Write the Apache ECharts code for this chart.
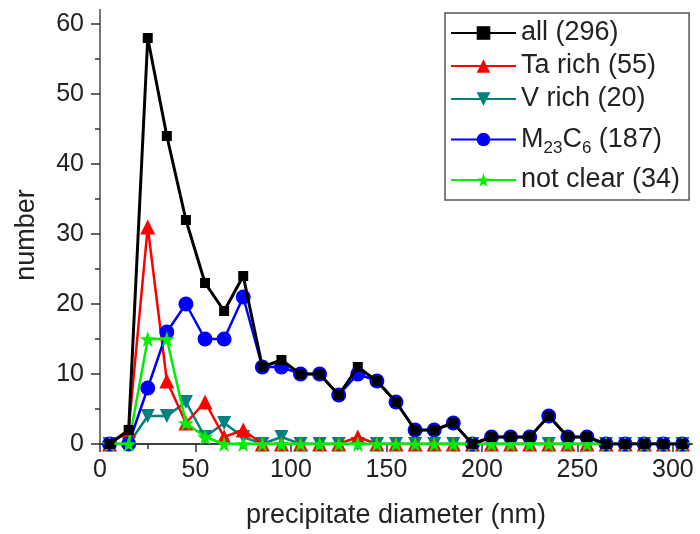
<!DOCTYPE html>
<html>
<head>
<meta charset="utf-8">
<script src="https://cdn.jsdelivr.net/npm/echarts@6/dist/echarts.min.js"></script>
<style>html,body{margin:0;padding:0;background:#fff}#c{width:700px;height:534px}</style>
</head>
<body>
<div id="c"></div>
<script>
var diameters = [5,15,25,35,45,55,65,75,85,95,105,115,125,135,145,155,165,175,185,195,205,215,225,235,245,255,265,275,285,295,305];
var allVals   = [0,2,58,44,32,23,19,24,11,12,10,10,7,11,9,6,2,2,3,0,1,1,1,4,1,1,0,0,0,0,0];
var taVals    = [0,2,31,9,3,6,1,2,0,0,0,0,0,1,0,0,0,0,0,0,0,0,0,0,0,0,0,0,0,0,0];
var vVals     = [0,0,4,4,6,1,3,1,0,1,0,0,0,0,0,0,0,0,0,0,0,0,0,0,0,0,0,0,0,0,0];
var m23Vals   = [0,0,8,16,20,15,15,21,11,11,10,10,7,10,9,6,2,2,3,0,1,1,1,4,1,1,0,0,0,0,0];
var ncVals    = [0,0,15,15,3,1,0,0,0,0,0,0,0,0,0,0,0,0,0,0,0,0,0,0,0,0,0,0,0,0,0];
var xMajor = [0,50,100,150,200,250,300];
var xMinor = [25,75,125,175,225,275];
var yMajor = [0,10,20,30,40,50,60];
var yMinor = [5,15,25,35,45,55];
var names = ['all (296)','Ta rich (55)','V rich (20)','M23C6 (187)','not clear (34)'];

function pairs(v){ return diameters.map(function(d,i){ return [d, v[i]]; }); }

var FONT = 'Liberation Sans, Arial, sans-serif';
var TXT = '#222';
var AX = '#333';
var chart = echarts.init(document.getElementById('c'), null, {renderer:'canvas'});

function mkSeries(name, vals, color, symbol, size, lw, z){
  return {
    name: name, type: 'line', data: pairs(vals), xAxisIndex: 0, yAxisIndex: 0,
    symbol: symbol, symbolSize: size, showAllSymbol: true, z: z,
    lineStyle: {color: color, width: lw},
    itemStyle: {color: color, borderWidth: 0},
    emphasis: {disabled: true}, animation: false
  };
}
var starPath = 'path://M50,0 L61.8,35.5 L97.6,35.5 L68.8,57.4 L79.4,91.5 L50,70.5 L20.6,91.5 L31.2,57.4 L2.4,35.5 L38.2,35.5 Z';

var option = {
  animation: false,
  backgroundColor: '#fff',
  grid: {left: 100, right: 8, top: 10, bottom: 88, containLabel: false},
  xAxis: [
    {type:'value', position:'bottom', min:0, max:310,
     axisLine:{show:true, lineStyle:{color:AX, width:1.5}},
     axisTick:{show:true, customValues:xMajor, length:8, inside:false, lineStyle:{color:AX, width:1.5}},
     axisLabel:{customValues:xMajor, fontFamily:FONT, fontSize:25, color:TXT, margin:14},
     splitLine:{show:false},
     name:'precipitate diameter (nm)', nameLocation:'middle', nameGap:58,
     nameTextStyle:{fontFamily:FONT, fontSize:27, color:TXT}},
    {type:'value', position:'bottom', min:0, max:310,
     axisLine:{show:false},
     axisTick:{show:true, customValues:xMinor, length:5, lineStyle:{color:AX, width:1.5}},
     axisLabel:{show:false}, splitLine:{show:false}},
    {type:'value', position:'top', min:0, max:310,
     axisLine:{show:true, lineStyle:{color:AX, width:1.5}},
     axisTick:{show:false}, axisLabel:{show:false}, splitLine:{show:false}}
  ],
  yAxis: [
    {type:'value', position:'left', min:0, max:62,
     axisLine:{show:true, lineStyle:{color:AX, width:1.5}},
     axisTick:{show:true, customValues:yMajor, length:9, lineStyle:{color:AX, width:1.5}},
     axisLabel:{customValues:yMajor, fontFamily:FONT, fontSize:25, color:TXT, margin:16},
     splitLine:{show:false},
     name:'number', nameLocation:'middle', nameGap:60, nameRotate:90,
     nameTextStyle:{fontFamily:FONT, fontSize:27, color:TXT, padding:[0,16,0,0]}},
    {type:'value', position:'left', min:0, max:62,
     axisLine:{show:false},
     axisTick:{show:true, customValues:yMinor, length:5, lineStyle:{color:AX, width:1.5}},
     axisLabel:{show:false}, splitLine:{show:false}},
    {type:'value', position:'right', min:0, max:62,
     axisLine:{show:true, lineStyle:{color:'#777', width:2}},
     axisTick:{show:false}, axisLabel:{show:false}, splitLine:{show:false}}
  ],
  legend: {
    orient:'vertical', left:445, top:13, padding:[5,9,5,5],
    backgroundColor:'#fff', borderColor:'#555', borderWidth:1.5,
    itemWidth:65, itemHeight:17, itemGap:3,
    data: names,
    formatter: function(n){
      if (n.indexOf('M23C6') === 0) return '{n|M}{sub|23}{n|C}{sub|6}{n| (187)}';
      return n;
    },
    textStyle:{fontFamily:FONT, fontSize:27, color:TXT, lineHeight:30,
      rich:{
        n:{fontFamily:FONT, fontSize:27, color:TXT, lineHeight:45, verticalAlign:'middle'},
        sub:{fontFamily:FONT, fontSize:17, color:TXT, lineHeight:17, verticalAlign:'bottom', padding:[0,0,5,0]}
      }}
  },
  series: [
    mkSeries(names[2], vVals, '#008080', 'triangle', 14, 2.5, 2),
    mkSeries(names[1], taVals, '#ff0000', 'triangle', 15, 2.5, 3),
    mkSeries(names[3], m23Vals, '#0000ff', 'circle', 15, 2.5, 4),
    mkSeries(names[4], ncVals, '#00ee00', starPath, 16, 2.5, 5),
    mkSeries(names[0], allVals, '#000000', 'rect', 10, 3, 6)
  ]
};
option.series[0].symbolRotate = 180;
chart.setOption(option);
</script>
</body>
</html>
